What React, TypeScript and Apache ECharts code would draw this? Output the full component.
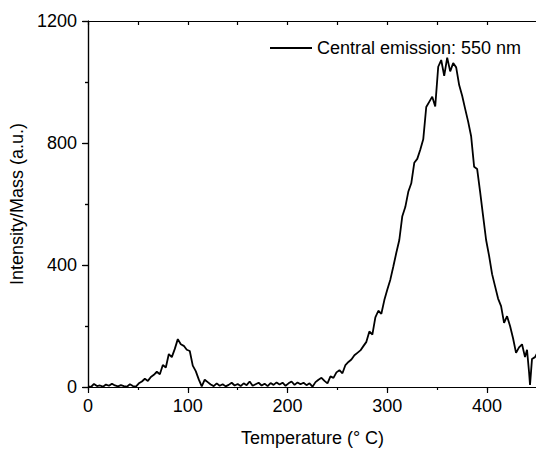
import React, { useEffect, useRef } from "react";
import * as echarts from "echarts";

const temperatures = [
  0, 3, 6, 9, 12, 15, 18, 21, 24, 27, 30, 33, 36, 39, 42, 45, 48, 51, 54, 57,
  60, 63, 66, 69, 72, 75, 78, 81, 84, 87, 90, 93, 96, 99, 102, 105, 108, 111, 114, 117,
  120, 123, 126, 129, 132, 135, 138, 141, 144, 147, 150, 153, 156, 159, 162, 165, 168, 171, 174, 177,
  180, 183, 186, 189, 192, 195, 198, 201, 204, 207, 210, 213, 216, 219, 222, 225, 228, 231, 234, 237,
  240, 243, 246, 249, 252, 255, 258, 261, 264, 267, 270, 273, 276, 279, 282, 285, 288, 291, 294, 297,
  300, 303, 306, 309, 312, 315, 318, 321, 324, 327, 330, 333, 336, 339, 342, 345, 348, 351, 354, 357,
  360, 363, 366, 369, 372, 375, 378, 381, 384, 387, 390, 393, 396, 399, 402, 405, 408, 411, 414, 417,
  420, 423, 426, 429, 432, 435, 438, 440, 442, 443, 445, 448, 450,
];

const intensity = [
  2, 0, 10, 3, 5, 1, 8, 4, 11, 5, 2, 6, 3, 1, 9, 3, 1, 12, 18, 27,
  20, 33, 40, 50, 42, 72, 64, 108, 98, 125, 157, 140, 135, 122, 118, 70, 52, 25, 2, 24,
  16, 8, 3, 12, 4, 9, 2, 7, 14, 5, 10, 3, 12, 6, 18, 4, 9, 14, 5, 11,
  3, 13, 7, 15, 8, 14, 4, 12, 18, 7, 15, 9, 14, 6, 12, 1, 16, 24, 30, 20,
  12, 35, 30, 48, 55, 45, 72, 82, 90, 104, 112, 120, 134, 148, 182, 172, 228, 250, 240, 285,
  320, 352, 395, 440, 482, 560, 590, 640, 668, 735, 748, 778, 812, 918, 935, 952, 920, 1050, 1072, 1020,
  1080, 1035, 1062, 1048, 990, 955, 912, 870, 822, 722, 715, 640, 560, 482, 430, 370, 330, 290, 265, 210,
  232, 200, 160, 112, 130, 140, 98, 122, 50, 7, 92, 98, 110,
];

const seriesName = "Central emission: 550 nm";
const xTitle = "Temperature (° C)";
const yTitle = "Intensity/Mass (a.u.)";

const FONT = "Arial, 'Liberation Sans', sans-serif";

export default function App() {
  const ref = useRef<HTMLDivElement>(null);

  useEffect(() => {
    if (!ref.current) return;
    const chart = echarts.init(ref.current, undefined, { renderer: "svg" });
    const data = temperatures.map((t, i) => [t, intensity[i]]);
    const lineStyle = { color: "#000", width: 1.2 };
    const option: any = {
      animation: false,
      backgroundColor: "#fff",
      textStyle: { fontFamily: FONT },
      grid: { left: 87, top: 21, width: 450, height: 366, containLabel: false },
      legend: {
        show: true,
        left: 265,
        top: 34,
        icon: "rect",
        itemWidth: 42,
        itemHeight: 2,
        textStyle: { fontSize: 18, color: "#000", fontFamily: FONT },
        data: [seriesName],
      },
      xAxis: [
        {
          type: "value",
          position: "bottom",
          min: 0,
          max: 450,
          interval: 100,
          name: xTitle,
          nameLocation: "middle",
          nameGap: 42,
          nameTextStyle: { fontSize: 18, color: "#000", fontFamily: FONT },
          axisLine: { show: true, lineStyle },
          axisTick: { show: true, inside: false, length: 6, lineStyle },
          axisLabel: {
            show: true,
            margin: 10,
            fontSize: 18,
            color: "#000",
            fontFamily: FONT,
            showMaxLabel: false,
            formatter: (v: number) => (v % 100 === 0 ? String(v) : ""),
          },
          splitLine: { show: false },
        },
        {
          type: "value",
          position: "bottom",
          min: 0,
          max: 450,
          interval: 50,
          axisLine: { show: false },
          axisTick: { show: true, inside: false, length: 3, lineStyle },
          axisLabel: { show: false },
          splitLine: { show: false },
        },
        {
          type: "value",
          position: "top",
          min: 0,
          max: 450,
          interval: 50,
          axisLine: { show: true, lineStyle },
          axisTick: { show: true, inside: true, length: 4, lineStyle },
          axisLabel: { show: false },
          splitLine: { show: false },
        },
      ],
      yAxis: [
        {
          type: "value",
          position: "left",
          min: 0,
          max: 1200,
          interval: 400,
          name: yTitle,
          nameLocation: "middle",
          nameGap: 62,
          nameTextStyle: { fontSize: 18, color: "#000", fontFamily: FONT },
          axisLine: { show: true, lineStyle },
          axisTick: { show: true, inside: false, length: 6, lineStyle },
          minorTick: { show: true, splitNumber: 2, length: 3, lineStyle },
          axisLabel: {
            show: true,
            margin: 11,
            fontSize: 18,
            color: "#000",
            fontFamily: FONT,
            formatter: (v: number) => String(v),
          },
          splitLine: { show: false },
        },
        {
          type: "value",
          position: "right",
          min: 0,
          max: 1200,
          interval: 400,
          axisLine: { show: true, lineStyle },
          axisTick: { show: true, inside: true, length: 5, lineStyle },
          minorTick: { show: true, splitNumber: 2, length: 3, lineStyle },
          axisLabel: { show: false },
          splitLine: { show: false },
        },
      ],
      series: [
        {
          name: seriesName,
          type: "line",
          xAxisIndex: 0,
          yAxisIndex: 0,
          data,
          symbol: "none",
          showSymbol: false,
          lineStyle: { color: "#000", width: 1.8 },
          itemStyle: { color: "#000" },
        },
      ],
    };
    chart.setOption(option);
    return () => chart.dispose();
  }, []);

  return (
    <div
      ref={ref}
      style={{ position: "fixed", left: 0, top: 0, width: 560, height: 454, background: "#fff" }}
    />
  );
}
